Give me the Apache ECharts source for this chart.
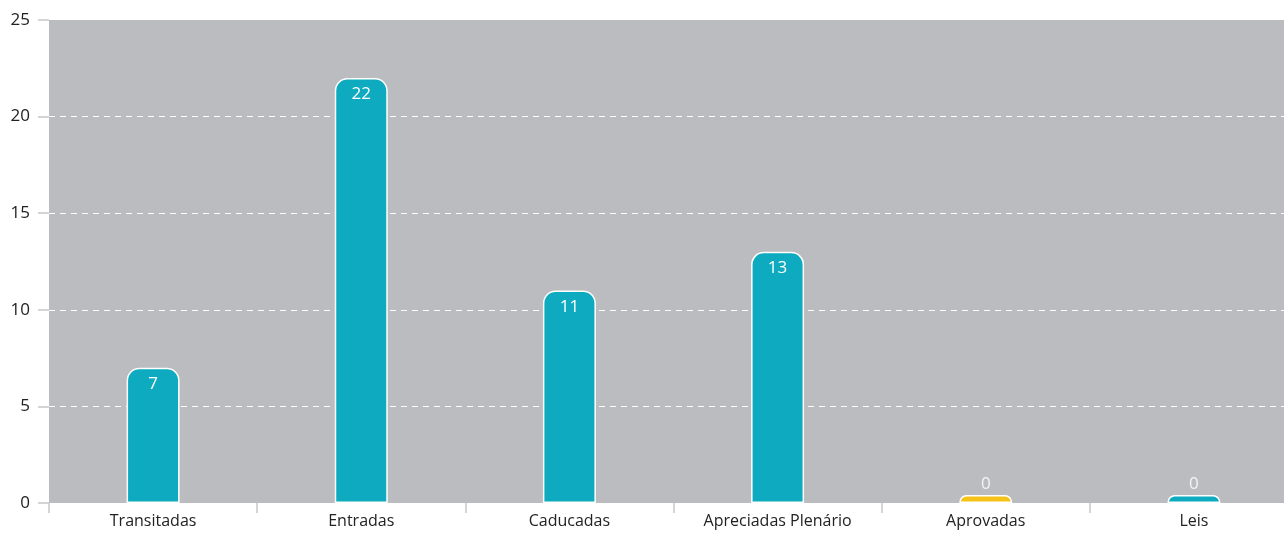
<!DOCTYPE html>
<html><head><meta charset="utf-8">
<script src="https://cdn.jsdelivr.net/npm/echarts@6/dist/echarts.min.js"></script>
<style>html,body{margin:0;padding:0;background:#fff;overflow:hidden}#c{width:1298px;height:533px}</style>
</head><body><div id="c"></div>
<script>
const categories = ['Transitadas', 'Entradas', 'Caducadas', 'Apreciadas Plenário', 'Aprovadas', 'Leis'];
const values = [7, 22, 11, 13, 0, 0];
const barColors = ['#0eaabf', '#0eaabf', '#0eaabf', '#0eaabf', '#f6c217', '#0eaabf'];
const yTicks = [0, 5, 10, 15, 20, 25];

const chart = echarts.init(document.getElementById('c'));
const font = '"Open Sans", "Noto Sans", sans-serif';
chart.setOption({
  animation: false,
  grid: { left: 49, right: 0, top: 20, bottom: 30, show: true, backgroundColor: '#bbbcc0', borderWidth: 0 },
  xAxis: {
    type: 'category', data: categories,
    axisLine: { show: false },
    axisTick: { show: true, length: 10, lineStyle: { color: '#c8c8c8', width: 1.5 } },
    axisLabel: { color: '#222', fontFamily: font, fontSize: 16, margin: 10 }
  },
  yAxis: {
    type: 'value', min: yTicks[0], max: yTicks[yTicks.length - 1], interval: 5,
    axisLine: { show: false },
    axisTick: { show: true, length: 11, lineStyle: { color: '#c8c8c8', width: 1.5 } },
    axisLabel: { color: '#222', fontFamily: font, fontSize: 17, margin: 19 },
    splitLine: { show: true, showMinLine: false, showMaxLine: false, lineStyle: { color: '#ffffff', type: [6, 5], width: 1 } }
  },
  series: [{
    type: 'bar',
    barWidth: 53,
    barMinHeight: 8,
    data: values.map((v, i) => ({
      value: v,
      itemStyle: { color: barColors[i] },
      label: v === 0 ? { position: 'top', distance: 2, color: '#f4f4f4' } : undefined
    })),
    itemStyle: { borderColor: '#ffffff', borderWidth: 1.5, borderRadius: [12, 12, 0, 0] },
    label: { show: true, position: 'insideTop', distance: 8, color: '#ffffff', fontFamily: font, fontSize: 17 }
  }]
});
</script></body></html>
